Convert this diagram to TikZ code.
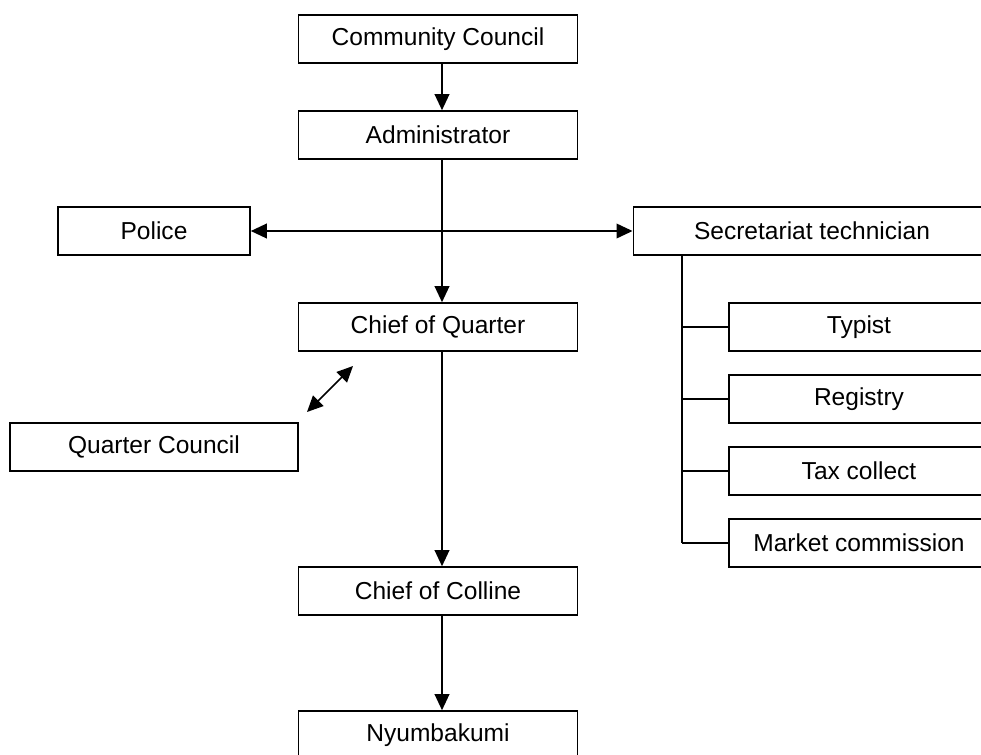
\documentclass[tikz,border=0pt]{standalone}
\usepackage{fontspec}
\setmainfont{Liberation Sans}
\usetikzlibrary{arrows.meta}
\tikzset{
  box/.style={draw, line width=1.2pt, minimum height=36pt, inner sep=0pt,
    font=\fontsize{18.4}{22}\selectfont},
  mid/.style={box, minimum width=209pt},
  sub/.style={box, minimum width=195pt},
  arr/.style={line width=1.2pt, -{Triangle[length=12pt,width=11pt]}},
  dbl/.style={line width=1.2pt, {Triangle[length=12pt,width=11pt]}-{Triangle[length=12pt,width=11pt]}},
  lnk/.style={line width=1.2pt}
}
\begin{document}
\begin{tikzpicture}[x=0.75pt, y=-0.75pt]
\useasboundingbox (0,0) rectangle (981,754);
\clip (0,0) rectangle (981,754);
% main column
\node[mid] (cc) at (438,39) {Community Council};
\node[mid] (adm) at (438,135) {Administrator};
\node[mid] (cq) at (438,327) {Chief of Quarter};
\node[mid] (ccol) at (438,591) {Chief of Colline};
\node[mid] (nyu) at (438,735) {Nyumbakumi};
% side boxes
\node[box, minimum width=144pt] (pol) at (154,231) {Police};
\node[box, minimum width=216pt] (qc) at (154,447) {Quarter Council};
\node[box, minimum width=268pt] (sec) at (812,231) {Secretariat technician};
\node[sub] (typ) at (859,327) {Typist};
\node[sub] (reg) at (859,399) {Registry};
\node[sub] (tax) at (859,471) {Tax collect};
\node[sub] (mkt) at (859,543) {Market commission};

\coordinate (axis) at (442,0);
\coordinate (hub) at (axis |- pol.east);
\coordinate (qa) at (307,412);
\coordinate (qb) at (353,366);
\coordinate (trunk) at (682,0);

\draw[arr] (axis |- cc.south) -- (axis |- adm.north);
\draw[lnk] (axis |- adm.south) -- (hub);
\draw[arr] (hub) -- (axis |- cq.north);
\draw[arr] (hub) -- (pol);
\draw[arr] (hub) -- (sec);
\draw[dbl] (qa) -- (qb);
\draw[arr] (axis |- cq.south) -- (axis |- ccol.north);
\draw[arr] (axis |- ccol.south) -- (axis |- nyu.north);

\draw[lnk] (trunk |- sec.south) -- (trunk |- mkt.west);
\foreach \i in {typ,reg,tax,mkt}
    \draw[lnk] (trunk |- \i.west) -- (\i.west);
\end{tikzpicture}
\end{document}
